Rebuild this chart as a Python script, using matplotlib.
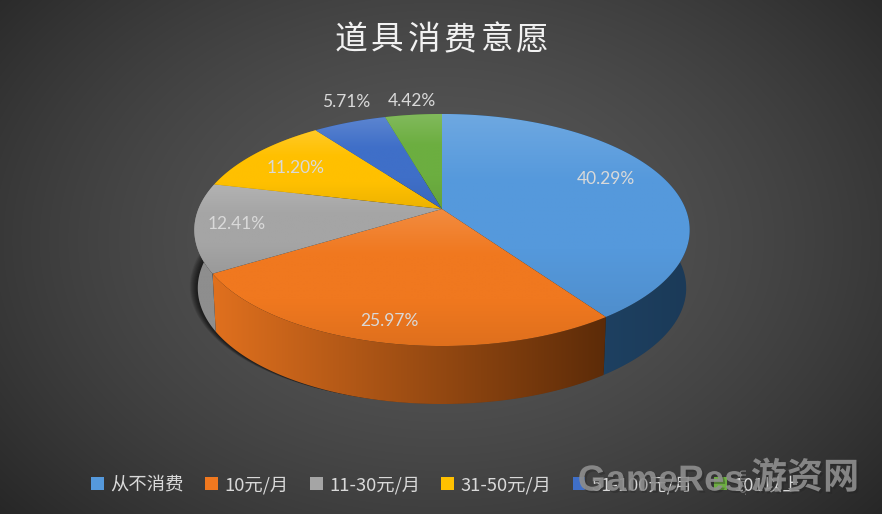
import numpy as np
import matplotlib
matplotlib.use('Agg')
import matplotlib.pyplot as plt
import matplotlib.patheffects as pe
from matplotlib.colors import to_rgb
from matplotlib.patches import Polygon, Patch

title = '道具消费意愿'
categories = ['从不消费', '10元/月', '11-30元/月', '31-50元/月', '51-100元/月', '101以上']
shares = [40.29, 25.97, 12.41, 11.20, 5.71, 4.42]

colors = ['#5599dc', '#f0781f', '#a5a5a5', '#ffc000', '#3f6fc8', '#6cae40']
side_left = ['#224c72', '#e0701e', '#8e8e8e', '#a88000', '#2a4a80', '#4a7a30']
side_right = ['#1b3a58', '#5c2b08', '#8e8e8e', '#a88000', '#2a4a80', '#4a7a30']
label_pos = [(606, 179), (389, 321), (237, 224), (296, 168), (346, 102), (412, 101)]

CJK = ['Noto Sans CJK SC', 'DejaVu Sans']
LAT = ['Lato', 'Noto Sans CJK SC', 'DejaVu Sans']

# pie geometry in pixels, with a bit of perspective so the apex sits above the ellipse centre
CX, CY, R, A, K, DEPTH = 442, 209, 243.6, -74.4, 0.181, 58


def rim(deg, drop=0.0):
    t = np.radians(deg)
    u, v = np.sin(t), np.cos(t)
    d = 1 + K * v
    shrink = 1 - 0.014 * drop / DEPTH
    return np.column_stack([CX + R * shrink * u / d, (A * v + CY) / d + drop])


def blend(c1, c2, t):
    c1, c2 = np.array(to_rgb(c1)), np.array(to_rgb(c2))
    return c1 + (c2 - c1) * t


def gradient(ax, poly, stops, vertical=True, z=2):
    xs, ys = poly[:, 0], poly[:, 1]
    x0, x1, y0, y1 = xs.min(), xs.max(), ys.min(), ys.max()
    pos = np.linspace(0, 1, 256)
    rgb = np.array([[np.interp(p, np.linspace(0, 1, len(stops)), [to_rgb(s)[i] for s in stops])
                     for i in range(3)] for p in pos])
    img = rgb[:, None, :] if vertical else rgb[None, :, :]
    im = ax.imshow(img, extent=(x0, x1, y1, y0), aspect='auto', zorder=z, interpolation='bilinear')
    patch = Polygon(poly, closed=True, transform=ax.transData, fc='none', ec='none')
    ax.add_patch(patch)
    im.set_clip_path(patch)


plt.rcParams['font.family'] = CJK
fig = plt.figure(figsize=(8.82, 5.14), dpi=100)
ax = fig.add_axes([0, 0, 1, 1])

# radial background
yy, xx = np.mgrid[0:514, 0:882]
dist = np.sqrt(((xx - 441) / 560) ** 2 + ((yy - 240) / 400) ** 2)
shade = np.clip(0.345 - 0.18 * dist ** 1.6, 0.14, 1)
ax.imshow(np.dstack([shade] * 3), extent=(0, 882, 514, 0), aspect='auto', zorder=0)

edges = np.concatenate([[0], np.cumsum(shares)]) / sum(shares) * 360

# soft shadow at the lower left of the body
outline = rim(np.linspace(0, 360, 361), DEPTH)
for i in range(1, 17):
    pts = outline + np.array([-i * 0.5, -i * 0.1])
    ax.add_patch(Polygon(pts, closed=True, fc='black', ec='none', alpha=0.05, zorder=1))

# side walls
for i in range(len(shares)):
    arc = np.linspace(edges[i], edges[i + 1], 80)
    wall = np.vstack([rim(arc), rim(arc[::-1], DEPTH)])
    gradient(ax, wall, [side_left[i], side_right[i]], vertical=False, z=2)

# top faces
for i in range(len(shares)):
    arc = np.linspace(edges[i], edges[i + 1], 120)
    face = np.vstack([[[CX, CY]], rim(arc)])
    light = blend(colors[i], '#ffffff', 0.15)
    dark = blend(colors[i], '#000000', 0.07)
    gradient(ax, face, [light, colors[i], colors[i], dark], z=3)

for (x, y), s in zip(label_pos, shares):
    ax.text(x, y, f'{s:.2f}%', color='#d9d9d9', fontsize=12.5, ha='center', va='center',
            family=LAT, zorder=5)

for i, ch in enumerate(title):
    ax.text(351 + i * 36.3, 40, ch, color='#f2f2f2', fontsize=23.5, ha='center', va='center', zorder=5)

handles = [Patch(facecolor=c, edgecolor='none') for c in colors]
leg = ax.legend(handles, categories, ncol=6, loc='center', bbox_to_anchor=(446 / 882, 1 - 485 / 514),
                frameon=False, fontsize=13.2, labelcolor='#d9d9d9', handlelength=0.7, handleheight=0.7,
                handletextpad=0.35, columnspacing=1.15, borderpad=0)
leg.set_zorder(5)

# watermark
glow = [pe.withSimplePatchShadow(offset=(1.5, -1.5), shadow_rgbFace='#222222', alpha=0.35)]
ax.text(661, 481, 'GameRes', color='#8f8f8f', fontsize=26, fontweight='bold', family='Liberation Sans',
        ha='center', va='center', alpha=0.9, zorder=6, path_effects=glow)
ax.text(743, 480, '.com', color='#8f8f8f', fontsize=8, rotation=90, family='DejaVu Sans',
        ha='center', va='center', alpha=0.9, zorder=6)
ax.text(805, 478, '游资网', color='#8f8f8f', fontsize=26, fontweight='bold', ha='center', va='center',
        alpha=0.9, zorder=6, path_effects=glow)

ax.set_xlim(0, 882)
ax.set_ylim(514, 0)
ax.axis('off')
fig.savefig('out.png', dpi=100)
plt.close(fig)
